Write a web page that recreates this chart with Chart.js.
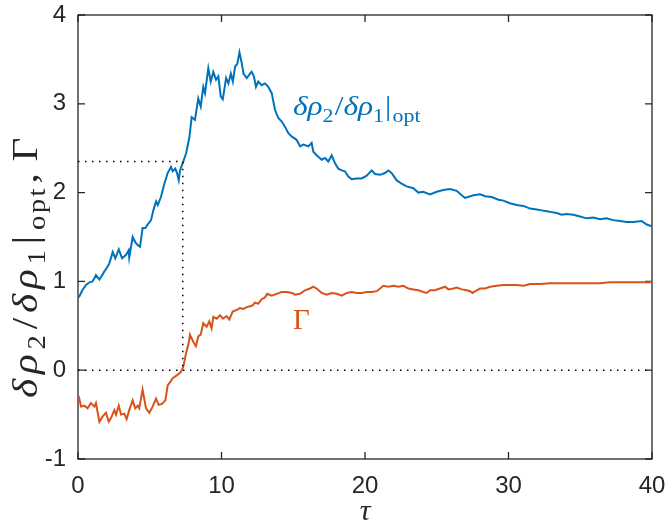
<!DOCTYPE html>
<html>
<head>
<meta charset="utf-8">
<script src="https://cdn.jsdelivr.net/npm/chart.js@4"></script>
<style>
  html, body { margin: 0; padding: 0; background: #fff; }
  #wrap { width: 665px; height: 527px; }
</style>
</head>
<body>
<div id="wrap"><canvas id="ratioChart" width="665" height="527"></canvas></div>
<script>
// ===========================
// Data
// ===========================
const tauRatio = [0, 0.09, 0.3, 0.56, 0.8, 1.02, 1.25, 1.49, 1.65, 1.83, 2.0, 2.18, 2.42, 2.6, 2.84, 3.07, 3.35, 3.53, 3.57, 3.81,
  4.0, 4.15, 4.32, 4.5, 4.7, 4.85, 5.09, 5.25, 5.44, 5.56, 5.78, 6.02, 6.25, 6.48, 6.6, 6.78, 6.9, 7.02, 7.11, 7.29,
  7.53, 7.76, 7.92, 8.15, 8.38, 8.55, 8.73, 8.85, 9.08, 9.25, 9.43, 9.62, 9.78, 9.95, 10.09, 10.32, 10.48, 10.65, 10.79, 10.95,
  11.1, 11.25, 11.41, 11.53, 11.76, 11.99, 12.1, 12.26, 12.4, 12.56, 12.8, 13.03, 13.26, 13.5, 13.73, 13.96, 14.2, 14.43, 14.66, 14.9,
  15.1, 15.25, 15.48, 15.7, 16.05, 16.28, 16.4, 16.63, 16.98, 17.21, 17.44, 17.68, 17.91, 18.14, 18.37, 18.6, 18.84, 19.07, 19.42, 19.77,
  20.12, 20.47, 20.7, 21.05, 21.39, 21.63, 21.86, 22.2, 22.55, 22.9, 23.37, 23.72, 24.06, 24.53, 25.0, 25.46, 25.93, 26.39, 26.74, 26.97,
  27.55, 28.02, 28.37, 28.83, 29.3, 29.64, 30.1, 30.57, 31.04, 31.5, 31.97, 32.31, 32.67, 33.0, 33.36, 33.7, 34.05, 34.52, 34.98, 35.45,
  35.91, 36.38, 36.84, 37.3, 37.77, 38.24, 38.7, 39.28, 39.63, 40];
const ratioValues = [0.82, 0.83, 0.90, 0.96, 0.99, 1.00, 1.07, 1.02, 1.06, 1.11, 1.15, 1.20, 1.33, 1.26, 1.36, 1.26, 1.30, 1.35, 1.27, 1.50,
  1.44, 1.41, 1.39, 1.60, 1.60, 1.64, 1.69, 1.80, 1.90, 1.86, 1.95, 2.10, 2.22, 2.29, 2.24, 2.27, 2.22, 2.14, 2.25, 2.33,
  2.44, 2.62, 2.85, 2.82, 3.06, 2.97, 3.19, 3.12, 3.40, 3.25, 3.36, 3.27, 3.31, 3.08, 3.05, 3.29, 3.23, 3.34, 3.25, 3.42,
  3.45, 3.58, 3.46, 3.34, 3.29, 3.34, 3.36, 3.31, 3.19, 3.25, 3.21, 3.23, 3.19, 3.12, 2.93, 2.84, 2.80, 2.74, 2.67, 2.63,
  2.61, 2.59, 2.52, 2.54, 2.52, 2.56, 2.46, 2.42, 2.37, 2.39, 2.35, 2.42, 2.33, 2.27, 2.25, 2.24, 2.18, 2.15, 2.16, 2.16,
  2.19, 2.25, 2.21, 2.20, 2.22, 2.25, 2.22, 2.14, 2.10, 2.07, 2.05, 2.00, 2.01, 1.98, 2.01, 2.03, 2.04, 2.02, 1.97, 1.94,
  1.97, 1.98, 1.96, 1.95, 1.92, 1.91, 1.88, 1.86, 1.85, 1.82, 1.81, 1.80, 1.79, 1.78, 1.77, 1.75, 1.76, 1.75, 1.73, 1.71,
  1.72, 1.70, 1.71, 1.69, 1.68, 1.67, 1.67, 1.68, 1.64, 1.62];

const tauGamma = [0, 0.09, 0.21, 0.44, 0.67, 0.9, 1.14, 1.25, 1.49, 1.72, 1.95, 2.14, 2.3, 2.53, 2.65, 2.84, 3.0, 3.23, 3.39, 3.57,
  3.81, 3.99, 4.16, 4.27, 4.5, 4.74, 4.97, 5.2, 5.44, 5.62, 5.85, 6.09, 6.25, 6.48, 6.6, 6.78, 6.95, 7.18, 7.34, 7.53,
  7.71, 7.8, 8.03, 8.22, 8.38, 8.55, 8.73, 8.96, 9.15, 9.31, 9.43, 9.66, 9.9, 10.1, 10.36, 10.54, 10.78, 11.06, 11.29, 11.53,
  11.76, 11.99, 12.17, 12.33, 12.56, 12.8, 13.03, 13.19, 13.5, 13.85, 14.2, 14.55, 14.9, 15.12, 15.47, 15.82, 16.17, 16.4, 16.63, 16.98,
  17.33, 17.68, 18.03, 18.38, 18.73, 19.07, 19.42, 19.77, 20.12, 20.47, 20.82, 21.05, 21.28, 21.63, 21.98, 22.33, 22.68, 23.02, 23.37, 23.72,
  24.06, 24.3, 24.53, 24.88, 25.23, 25.58, 25.81, 26.16, 26.39, 26.74, 27.09, 27.32, 27.5, 27.79, 28.02, 28.37, 28.72, 29.18, 29.64, 30.22,
  30.57, 31.04, 31.5, 32.2, 32.9, 33.6, 34.29, 34.98, 35.68, 36.38, 37.07, 37.77, 38.47, 39.16, 39.86, 40];
const gammaValues = [-0.35, -0.32, -0.41, -0.40, -0.43, -0.37, -0.41, -0.37, -0.58, -0.52, -0.48, -0.58, -0.54, -0.45, -0.50, -0.40, -0.50, -0.49, -0.55, -0.45,
  -0.34, -0.43, -0.40, -0.43, -0.22, -0.43, -0.48, -0.41, -0.32, -0.39, -0.38, -0.34, -0.17, -0.12, -0.09, -0.07, -0.05, -0.02, 0.04, 0.19,
  0.30, 0.40, 0.32, 0.27, 0.38, 0.40, 0.53, 0.49, 0.55, 0.47, 0.60, 0.58, 0.62, 0.58, 0.61, 0.57, 0.66, 0.68, 0.70, 0.69,
  0.71, 0.72, 0.73, 0.76, 0.75, 0.80, 0.82, 0.86, 0.84, 0.86, 0.88, 0.88, 0.87, 0.85, 0.86, 0.90, 0.92, 0.94, 0.92, 0.87,
  0.85, 0.87, 0.86, 0.84, 0.87, 0.88, 0.87, 0.87, 0.88, 0.88, 0.89, 0.92, 0.95, 0.94, 0.95, 0.94, 0.95, 0.92, 0.91, 0.90,
  0.88, 0.87, 0.90, 0.90, 0.92, 0.94, 0.91, 0.92, 0.93, 0.91, 0.90, 0.89, 0.87, 0.90, 0.92, 0.92, 0.94, 0.95, 0.96, 0.96,
  0.96, 0.95, 0.97, 0.97, 0.98, 0.98, 0.98, 0.98, 0.98, 0.98, 0.99, 0.99, 0.99, 0.99, 0.99, 1.00];

// dotted guide lines: tau where Gamma crosses zero, and the ratio there
const guideTau = [0, 7.3, 7.3];
const guideValues = [2.35, 2.35, 0];
const zeroTau = [0, 40];
const zeroValues = [0, 0];

const xTickValues = [0, 10, 20, 30, 40];
const yTickValues = [-1, 0, 1, 2, 3, 4];

const BLUE = "#0072BD";
const ORANGE = "#D95319";
const AXIS = "#262626";

function toPoints(xs, ys) {
    return xs.map((x, i) => ({ x: x, y: ys[i] }));
}

// ===========================
// Math-style text (serif, subscripts)
// ===========================
function runFont(kind, size) {
    const s = kind === "s" ? size * 0.7 : size;
    const style = kind === "i" ? "italic " : "";
    return style + s + "px 'Liberation Serif', 'DejaVu Serif', serif";
}

function drawRuns(ctx, runs, size, gap) {
    let x = 0;
    runs.forEach(function (r) {
        ctx.font = runFont(r[1], size);
        const dy = r[1] === "s" ? size * 0.22 : 0;
        ctx.fillText(r[0], x, dy);
        x += ctx.measureText(r[0]).width + (r[2] || 0) + (gap || 0);
    });
    return x;
}

const ratioRuns = [["δρ", "i"], ["2", "s", 1], ["/", "r"], ["δρ", "i"], ["1", "s", 1], ["|", "r", 1], ["opt", "s"]];
const yLabelRuns = [["δ", "i"], ["ρ", "i"], ["2", "s", 1], ["/", "r"], ["δ", "i"], ["ρ", "i"], ["1", "s", 1], ["|", "r", 1],
    ["o", "s", -2], ["p", "s", -2], ["t", "s"], [",", "r", 6], ["Γ", "r"]];

const mathText = {
    id: "mathText",
    afterDraw(chart) {
        const ctx = chart.ctx;
        const xs = chart.scales.x;
        const ys = chart.scales.y;
        const area = chart.chartArea;
        ctx.save();
        ctx.textBaseline = "alphabetic";
        ctx.textAlign = "left";

        // curve labels
        ctx.fillStyle = BLUE;
        ctx.save();
        ctx.translate(xs.getPixelForValue(14.98), ys.getPixelForValue(2.87));
        ctx.scale(1.12, 1);
        drawRuns(ctx, ratioRuns, 28);
        ctx.restore();

        ctx.fillStyle = ORANGE;
        ctx.save();
        ctx.translate(xs.getPixelForValue(14.98), ys.getPixelForValue(0.46));
        drawRuns(ctx, [["Γ", "r"]], 29);
        ctx.restore();

        // axis titles
        ctx.fillStyle = AXIS;
        ctx.font = runFont("i", 30);
        ctx.textAlign = "center";
        ctx.fillText("τ", (area.left + area.right) / 2, 520);

        ctx.textAlign = "left";
        ctx.save();
        ctx.translate(37, 398);
        ctx.rotate(-Math.PI / 2);
        ctx.scale(1.18, 1);
        drawRuns(ctx, yLabelRuns, 35, 4);
        ctx.restore();

        ctx.restore();
    }
};

// ===========================
// MATLAB-like box with inward ticks
// ===========================
const boxAxes = {
    id: "boxAxes",
    beforeDatasetsDraw(chart) {
        const ctx = chart.ctx;
        const a = chart.chartArea;
        const xs = chart.scales.x;
        const ys = chart.scales.y;
        const len = 7;
        ctx.save();
        ctx.strokeStyle = AXIS;
        ctx.lineWidth = 1.3;
        ctx.strokeRect(a.left, a.top, a.right - a.left, a.bottom - a.top);
        ctx.beginPath();
        xTickValues.forEach(function (v) {
            const px = xs.getPixelForValue(v);
            ctx.moveTo(px, a.bottom); ctx.lineTo(px, a.bottom - len);
            ctx.moveTo(px, a.top); ctx.lineTo(px, a.top + len);
        });
        yTickValues.forEach(function (v) {
            const py = ys.getPixelForValue(v);
            ctx.moveTo(a.left, py); ctx.lineTo(a.left + len, py);
            ctx.moveTo(a.right, py); ctx.lineTo(a.right - len, py);
        });
        ctx.stroke();
        ctx.restore();
    }
};

document.addEventListener("DOMContentLoaded", function () {
    const ctx = document.getElementById("ratioChart").getContext("2d");

    const lineStyle = { pointRadius: 0, borderWidth: 2, tension: 0, fill: false };
    const dotStyle = { pointRadius: 0, borderWidth: 1.5, borderColor: "#000", borderDash: [1.5, 5.5], fill: false };

    new Chart(ctx, {
        type: "line",
        data: {
            datasets: [
                Object.assign({ label: "zero", data: toPoints(zeroTau, zeroValues) }, dotStyle),
                Object.assign({ label: "guide", data: toPoints(guideTau, guideValues) }, dotStyle),
                Object.assign({ label: "ratio", data: toPoints(tauRatio, ratioValues), borderColor: BLUE }, lineStyle),
                Object.assign({ label: "Gamma", data: toPoints(tauGamma, gammaValues), borderColor: ORANGE }, lineStyle)
            ]
        },
        options: {
            responsive: false,
            animation: false,
            layout: { padding: { left: 0, right: 13, top: 15, bottom: 0 } },
            plugins: { legend: { display: false }, tooltip: { enabled: false } },
            scales: {
                x: {
                    type: "linear",
                    min: 0, max: 40,
                    grid: { display: false, drawTicks: false },
                    border: { display: false },
                    afterBuildTicks: function (s) { s.ticks = xTickValues.map(v => ({ value: v })); },
                    ticks: { color: AXIS, padding: 13, maxRotation: 0, font: { family: "'Liberation Sans', Arial, sans-serif", size: 24 } },
                    afterFit: function (s) { s.height = 68; s.paddingLeft = 0; s.paddingRight = 0; }
                },
                y: {
                    type: "linear",
                    min: -1, max: 4,
                    grid: { display: false, drawTicks: false },
                    border: { display: false },
                    afterBuildTicks: function (s) { s.ticks = yTickValues.map(v => ({ value: v })); },
                    ticks: { color: AXIS, padding: 12, font: { family: "'Liberation Sans', Arial, sans-serif", size: 24 } },
                    afterFit: function (s) { s.width = 78; s.paddingTop = 0; s.paddingBottom = 0; }
                }
            }
        },
        plugins: [boxAxes, mathText]
    });
});
</script>
</body>
</html>
